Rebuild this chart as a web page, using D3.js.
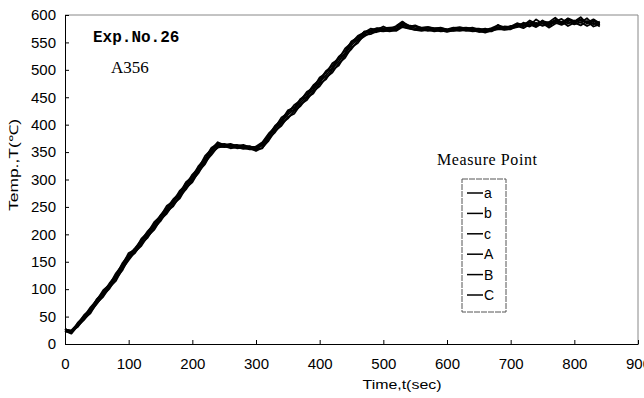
<!DOCTYPE html>
<html>
<head>
<meta charset="utf-8">
<script src="https://cdn.jsdelivr.net/npm/d3@7"></script>
<style>
  body { margin: 0; background: #fff; }
  svg { display: block; }
  .tick text { font-family: "Liberation Sans", Arial, sans-serif; font-size: 15px; fill: #000; }
</style>
</head>
<body>
<svg id="chart" width="644" height="398"></svg>
<script>
// time axis (sec), one sample every 10 s
const times = d3.range(0, 850, 10);

// temperature readings for each measure point
const pointA = [25,22,35,48,62,78,92,105,122,140,160,170,186,200,215,230,245,258,272,288,302,318,335,352,363,362,361,360,360,358,356,362,378,392,405,418,428,440,452,464,478,490,503,516,530,545,556,566,570,572,574,573,575,582,578,576,575,574,574,573,572,574,575,574,573,572,571,573,578,576,577,583,579,587,582,590,580,588,593,584,590,586,594,583,588];
const pointB = [28,20,39,50,67,80,98,108,129,144,166,172,192,203,222,233,252,260,279,290,309,321,343,355,368,363,365,361,363,359,360,368,384,395,413,421,436,444,460,467,486,494,512,520,539,549,562,568,575,573,579,574,580,588,579,581,576,578,575,577,573,576,578,575,577,573,575,572,582,575,580,578,586,581,592,584,587,595,585,591,588,596,584,590,582];
const pointC = [22,24,31,46,56,75,86,104,115,137,153,168,179,197,208,227,238,255,265,285,295,315,328,349,358,361,357,359,356,357,352,358,371,389,398,414,420,437,445,461,470,486,495,512,522,541,549,564,565,571,570,572,571,578,575,573,571,573,570,572,569,572,571,573,570,571,568,572,574,574,574,580,576,583,578,585,577,584,588,580,586,581,589,579,583];
const pointUA = [26,25,37,53,63,82,94,111,125,147,162,175,189,206,218,235,248,264,275,295,305,325,338,358,365,364,362,363,361,360,357,366,381,398,408,426,431,447,456,472,482,498,507,524,534,552,559,569,572,576,576,577,578,586,581,579,577,578,576,576,574,577,576,577,575,575,573,576,581,578,579,585,581,590,584,588,583,591,587,593,585,592,587,589,584];
const pointUB = [24,19,33,44,59,73,89,101,119,134,157,166,183,194,212,224,242,251,269,282,299,312,332,345,360,359,360,357,358,355,355,357,375,386,402,411,425,434,449,457,475,483,500,508,527,538,553,561,568,569,572,570,573,579,576,573,574,571,573,570,571,571,574,571,572,569,570,570,576,573,575,578,582,579,586,580,584,586,582,588,583,587,580,586,579];
const pointUC = [27,23,36,51,61,81,93,109,121,145,158,174,185,204,214,234,244,262,271,294,301,323,334,356,362,365,360,362,359,361,356,364,377,397,404,424,427,446,451,470,477,497,502,522,529,551,555,570,569,575,573,576,574,584,577,580,574,577,573,575,572,575,573,576,572,574,570,575,577,579,578,582,584,586,580,589,586,590,584,594,589,591,586,592,585];

const seriesNames = ['a', 'b', 'c', 'A', 'B', 'C'];
const seriesValues = [pointA, pointB, pointC, pointUA, pointUB, pointUC];

const xTicks = d3.range(0, 1000, 100);
const yTicks = d3.range(0, 650, 50);

const margin = { left: 65, right: 6, top: 15, bottom: 54 };
const width = 644, height = 398;

const svg = d3.select('#chart');

const xScale = d3.scaleLinear()
                 .domain([0, 900])
                 .range([margin.left, width - margin.right]);
const yScale = d3.scaleLinear()
                 .domain([0, 600])
                 .range([height - margin.bottom, margin.top]);

// frame: top & right edges are light grey in the scan
svg.append('line')
   .attr('x1', xScale(0)).attr('x2', xScale(900))
   .attr('y1', yScale(600)).attr('y2', yScale(600))
   .attr('stroke', '#888').attr('stroke-width', 1);
svg.append('line')
   .attr('x1', xScale(900)).attr('x2', xScale(900))
   .attr('y1', yScale(600)).attr('y2', yScale(0))
   .attr('stroke', '#888').attr('stroke-width', 1);

const xAxis = svg.append('g')
   .attr('transform', `translate(0,${yScale(0)})`)
   .call(d3.axisBottom(xScale).tickValues(xTicks).tickSizeInner(-4).tickSizeOuter(0).tickPadding(14));
xAxis.select('.domain').attr('stroke', '#000');
xAxis.selectAll('.tick line').attr('stroke', '#000');

const yAxis = svg.append('g')
   .attr('transform', `translate(${xScale(0)},0)`)
   .call(d3.axisLeft(yScale).tickValues(yTicks).tickSizeInner(-4).tickSizeOuter(0).tickPadding(9));
yAxis.select('.domain').attr('stroke', '#000');
yAxis.selectAll('.tick line').attr('stroke', '#000');

// data lines
const line = d3.line()
               .x((d, i) => xScale(times[i]))
               .y(d => yScale(d));

svg.append('g')
   .selectAll('path')
   .data(seriesValues)
   .join('path')
     .attr('d', line)
     .attr('fill', 'none')
     .attr('stroke', '#000')
     .attr('stroke-width', 1.8)
     .attr('stroke-linejoin', 'round');

// axis titles
svg.append('text')
   .attr('x', 402).attr('y', 389)
   .attr('text-anchor', 'middle')
   .attr('font-family', '"Liberation Sans", Arial, sans-serif')
   .attr('font-size', 12)
   .attr('textLength', 79)
   .attr('lengthAdjust', 'spacingAndGlyphs')
   .text('Time,t(sec)');

svg.append('text')
   .attr('transform', 'translate(18,165) rotate(-90)')
   .attr('text-anchor', 'middle')
   .attr('font-family', '"Liberation Sans", Arial, sans-serif')
   .attr('font-size', 12)
   .attr('textLength', 92)
   .attr('lengthAdjust', 'spacingAndGlyphs')
   .text('Temp.,T(℃)');

// annotations
svg.append('text')
   .attr('x', 93).attr('y', 42)
   .attr('font-family', '"Liberation Mono", "Courier New", monospace')
   .attr('font-weight', 'bold')
   .attr('font-size', 16)
   .text('Exp.No.26');

svg.append('text')
   .attr('x', 111).attr('y', 73)
   .attr('font-family', '"Liberation Serif", "Times New Roman", serif')
   .attr('font-size', 17)
   .text('A356');

// legend
svg.append('text')
   .attr('x', 437).attr('y', 165)
   .attr('font-family', '"Liberation Serif", "Times New Roman", serif')
   .attr('font-size', 16)
   .attr('textLength', 100)
   .text('Measure Point');

const legend = svg.append('g');
legend.append('rect')
   .attr('x', 462).attr('y', 179)
   .attr('width', 44).attr('height', 133)
   .attr('fill', '#fff')
   .attr('stroke', '#555')
   .attr('stroke-width', 1)
   .attr('stroke-dasharray', '6,1');

const legendY = d3.scalePoint()
                  .domain(seriesNames)
                  .range([193, 295]);

const items = legend.selectAll('.item')
   .data(seriesNames)
   .join('g')
     .attr('class', 'item')
     .attr('transform', d => `translate(0,${legendY(d)})`);
items.append('line')
   .attr('x1', 467).attr('x2', 483)
   .attr('y1', 0).attr('y2', 0)
   .attr('stroke', '#000').attr('stroke-width', 1.5);
items.append('text')
   .attr('x', 484).attr('y', 5)
   .attr('font-family', '"Liberation Sans", Arial, sans-serif')
   .attr('font-size', 14)
   .text(d => d);
</script>
</body>
</html>
